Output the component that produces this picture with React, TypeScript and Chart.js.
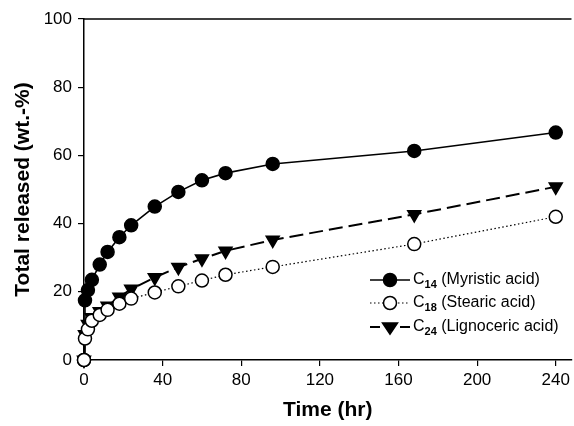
import React, { useEffect, useRef } from "react";
import { Chart, registerables } from "chart.js";

Chart.register(...registerables);

// Sampling times (hr) and cumulative release (wt.-%) for each fatty acid
const times = [0, 0.5, 2, 4, 8, 12, 18, 24, 36, 48, 60, 72, 96, 168, 240];
const myristic = [0, 17.5, 20.5, 23.5, 28, 31.7, 36, 39.5, 45, 49.3, 52.7, 54.8, 57.5, 61.3, 66.7];
const stearic = [0, 6.3, 9, 11.5, 13.2, 14.7, 16.5, 18, 19.8, 21.6, 23.3, 25, 27.3, 34, 42];
const lignoceric = [0, 7.5, 10.5, 12.5, 14.2, 15.8, 18.5, 20.8, 24.2, 27.2, 29.7, 32, 35.2, 42.7, 50.8];

const xTicks = [0, 40, 80, 120, 160, 200, 240];
const yTicks = [0, 20, 40, 60, 80, 100];

const legendSubs = ["14", "18", "24"];
const legendNames = [" (Myristic acid)", " (Stearic acid)", " (Lignoceric acid)"];

const FONT = "'Liberation Sans', Arial, Helvetica, sans-serif";

type SeriesStyle = {
  dash: number[];
  width: number;
  point: "circle" | "triangle";
  filled: boolean;
};

const styles: SeriesStyle[] = [
  { dash: [], width: 1.6, point: "circle", filled: true },
  { dash: [1.5, 2.5], width: 1.2, point: "circle", filled: false },
  { dash: [14, 6], width: 2, point: "triangle", filled: true },
];

function drawMarker(ctx: CanvasRenderingContext2D, s: SeriesStyle, x: number, y: number) {
  ctx.save();
  ctx.setLineDash([]);
  ctx.lineWidth = 1.5;
  ctx.strokeStyle = "#000";
  ctx.fillStyle = s.filled ? "#000" : "#fff";
  ctx.beginPath();
  if (s.point === "circle") {
    ctx.arc(x, y, 6.5, 0, Math.PI * 2);
  } else {
    const r = 7.5;
    ctx.moveTo(x - r, y - r * 0.55);
    ctx.lineTo(x + r, y - r * 0.55);
    ctx.lineTo(x, y + r * 0.95);
    ctx.closePath();
  }
  ctx.fill();
  ctx.stroke();
  ctx.restore();
}

const frameAndLegend = {
  id: "frameAndLegend",
  afterDraw(chart: Chart) {
    const { ctx, chartArea } = chart;
    ctx.save();
    // top frame line
    ctx.strokeStyle = "#000";
    ctx.lineWidth = 1.5;
    ctx.beginPath();
    ctx.moveTo(chartArea.left, chartArea.top);
    ctx.lineTo(chartArea.right, chartArea.top);
    ctx.stroke();

    // legend with subscripted carbon numbers
    const rows = [280, 303, 327];
    const x0 = 370;
    const x1 = 410;
    styles.forEach((s, i) => {
      const y = rows[i];
      ctx.save();
      ctx.strokeStyle = "#000";
      ctx.lineWidth = s.width;
      ctx.setLineDash(s.dash.length ? (s.dash[0] > 5 ? [10, 5] : s.dash) : []);
      ctx.beginPath();
      ctx.moveTo(x0, y);
      ctx.lineTo(x1, y);
      ctx.stroke();
      ctx.restore();
      drawMarker(ctx, s, (x0 + x1) / 2, y);

      ctx.fillStyle = "#000";
      ctx.textBaseline = "middle";
      ctx.textAlign = "left";
      let tx = 413;
      ctx.font = `16px ${FONT}`;
      ctx.fillText("C", tx, y);
      tx += ctx.measureText("C").width;
      ctx.font = `bold 11px ${FONT}`;
      ctx.fillText(legendSubs[i], tx, y + 5);
      tx += ctx.measureText(legendSubs[i]).width;
      ctx.font = `16px ${FONT}`;
      ctx.fillText(legendNames[i], tx, y);
    });
    ctx.restore();
  },
};

export default function App() {
  const canvasRef = useRef<HTMLCanvasElement | null>(null);

  useEffect(() => {
    document.body.style.margin = "0";
    const canvas = canvasRef.current;
    if (!canvas) return;

    const series = [myristic, stearic, lignoceric];
    const datasets = series.map((vals, i) => {
      const s = styles[i];
      return {
        label: ["C14", "C18", "C24"][i],
        data: times.map((t, k) => ({ x: t, y: vals[k] })),
        borderColor: "#000",
        borderWidth: s.width,
        borderDash: s.dash,
        backgroundColor: s.filled ? "#000" : "#fff",
        pointBackgroundColor: s.filled ? "#000" : "#fff",
        pointBorderColor: "#000",
        pointBorderWidth: 1.5,
        pointStyle: s.point,
        pointRotation: s.point === "triangle" ? 180 : 0,
        pointRadius: s.point === "triangle" ? 7.5 : 6.5,
        pointHoverRadius: s.point === "triangle" ? 7.5 : 6.5,
        tension: 0,
        fill: false,
        clip: false as const,
      };
    });
    // draw stearic first so filled markers sit on top
    const ordered = [datasets[1], datasets[2], datasets[0]];

    const chart = new Chart(canvas, {
      type: "line",
      data: { datasets: ordered as any },
      options: {
        animation: false,
        responsive: false,
        devicePixelRatio: 1,
        layout: { autoPadding: false, padding: { top: 19, right: 2, left: 0, bottom: 0 } },
        plugins: {
          legend: { display: false },
          tooltip: { enabled: false },
        },
        scales: {
          x: {
            type: "linear",
            min: 0,
            max: 248,
            afterBuildTicks: (scale: any) => {
              scale.ticks = xTicks.map((v) => ({ value: v }));
            },
            afterFit: (scale: any) => {
              scale.height = 66;
            },
            grid: {
              display: true,
              drawOnChartArea: false,
              drawTicks: true,
              tickLength: 6,
              color: "#000",
              lineWidth: 1.2,
            },
            border: { display: true, color: "#000", width: 1.5 },
            ticks: {
              color: "#000",
              padding: 4,
              maxRotation: 0,
              font: { family: FONT, size: 17 },
            },
            title: {
              display: true,
              text: "Time (hr)",
              color: "#000",
              padding: { top: 0, bottom: 3 },
              font: { family: FONT, size: 21, weight: "bold" },
            },
          },
          y: {
            type: "linear",
            min: 0,
            max: 100,
            afterBuildTicks: (scale: any) => {
              scale.ticks = yTicks.map((v) => ({ value: v }));
            },
            afterFit: (scale: any) => {
              scale.width = 84;
            },
            grid: {
              display: true,
              drawOnChartArea: false,
              drawTicks: true,
              tickLength: 6,
              color: "#000",
              lineWidth: 1.2,
            },
            border: { display: true, color: "#000", width: 1.5 },
            ticks: {
              color: "#000",
              padding: 6,
              font: { family: FONT, size: 17 },
            },
            title: {
              display: true,
              text: "Total released (wt.-%)",
              color: "#000",
              padding: { top: 11, bottom: 0 },
              font: { family: FONT, size: 21, weight: "bold" },
            },
          },
        },
      },
      plugins: [frameAndLegend],
    });

    return () => chart.destroy();
  }, []);

  return <canvas ref={canvasRef} width={574} height={426} style={{ display: "block" }} />;
}
